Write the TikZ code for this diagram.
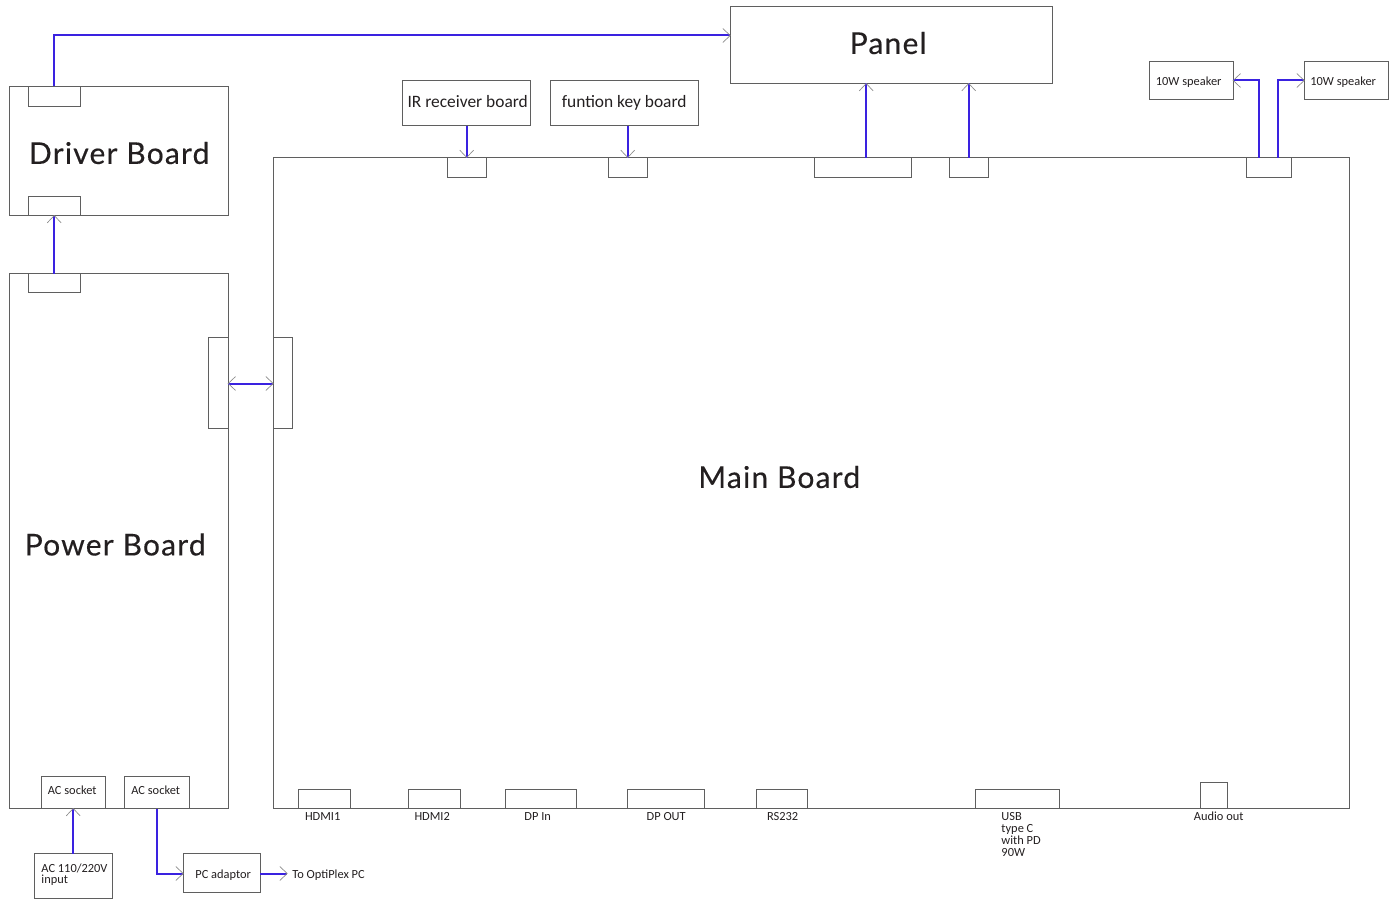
\documentclass[tikz,border=0pt]{standalone}
\usepackage{fontspec}
\setmainfont{Carlito}
\newfontfamily\titlefont[LetterSpace=4,FakeBold=0.35]{Lato}
\usetikzlibrary{arrows.meta}
\definecolor{wire}{HTML}{3A22E0}
\definecolor{edge}{HTML}{5F5F5F}
\definecolor{headc}{HTML}{8A8A8A}
\definecolor{ink}{HTML}{231F20}
\pgfdeclarearrow{
  name=OpenHead,
  setup code={\pgfarrowssettipend{0pt}\pgfarrowssetlineend{0pt}\pgfarrowssetbackend{-5.5pt}\pgfarrowssetvisualbackend{0pt}},
  drawing code={
    \pgfsetlinewidth{0.5pt}\pgfsetstrokecolor{headc}\pgfsetmiterjoin
    \pgfpathmoveto{\pgfqpoint{-5.5pt}{5.2pt}}
    \pgfpathlineto{\pgfpointorigin}
    \pgfpathlineto{\pgfqpoint{-5.5pt}{-5.2pt}}
    \pgfusepathqstroke},
  defaults={}
}
\tikzset{
  x=0.75pt,y=-0.75pt,
  box/.style={draw=edge,line width=0.75pt,inner sep=0pt,outer sep=0pt,anchor=north west,text=ink,align=center},
  wirepath/.style={draw=wire,line width=1.5pt,line join=miter},
  tip/.style={-{OpenHead}},
  tips/.style={{OpenHead}-{OpenHead}},
  bigtext/.style={font=\titlefont\fontsize{22.5pt}{26pt}\selectfont,text=ink,inner sep=0pt},
  midtext/.style={font=\fontsize{13.05pt}{15pt}\selectfont,text=ink},
  smalltext/.style={font=\fontsize{9.3pt}{9pt}\selectfont,text=ink,inner sep=0pt},
}
\newcommand{\bx}[6][]{\node[box,minimum width=#5*0.75pt-#3*0.75pt,minimum height=#6*0.75pt-#4*0.75pt,#1] (#2) at (#3,#4) {};}
\begin{document}
\begin{tikzpicture}
\useasboundingbox (-0.2,-0.5) rectangle (1396.8,898.5);
\bx{panel}{730}{6}{1052}{83}
\bx{driver}{9}{86}{228}{215}
\bx{drvtop}{28}{86}{80}{106}
\bx{drvbot}{28}{196}{80}{215}
\bx{power}{9}{273}{228}{808}
\bx{pwrtop}{28}{273}{80}{292}
\bx{pwrside}{208}{337}{228}{428}
\bx{mainb}{273}{157}{1349}{808}
\bx{mainside}{273}{337}{292}{428}
\bx{irbox}{402}{80}{530}{125}
\bx{keybox}{550}{80}{698}{125}
\bx{irconn}{447}{157}{486}{177}
\bx{keyconn}{608}{157}{647}{177}
\bx{pconna}{814}{157}{911}{177}
\bx{pconnb}{949}{157}{988}{177}
\bx{spkconn}{1246}{157}{1291}{177}
\bx{spkl}{1149}{61}{1233}{99}
\bx{spkr}{1304}{61}{1388}{99}
\bx{acone}{41}{776}{105}{808}
\bx{actwo}{124}{776}{189}{808}
\bx{acin}{34}{853}{112}{898}
\bx{pcad}{183}{853}{260}{892}
\bx{hdmia}{298}{789}{350}{808}
\bx{hdmib}{408}{789}{460}{808}
\bx{dpin}{505}{789}{576}{808}
\bx{dpout}{627}{789}{704}{808}
\bx{rs}{756}{789}{807}{808}
\bx{usb}{975}{789}{1059}{808}
\bx{audio}{1200}{782}{1227}{808}
% titles
\node[bigtext] (tpanel) at (888,42.5) {Panel};
\node[bigtext] (tdriver) at (119,152.5) {Driver Board};
\node[bigtext] (tpower) at (115,544) {Power Board};
\node[bigtext] (tmain) at (779,476.5) {Main Board};
% middle labels
\node[midtext] (tir) at (467.5,101) {IR receiver board};
\node[midtext] (tkey) at (624,102) {funtion key board};
% small labels
\node[smalltext] (tspkl) at (1188.5,81.5) {10W speaker};
\node[smalltext] (tspkr) at (1343,81.5) {10W speaker};
\node[smalltext] (tacone) at (72,790) {AC socket};
\node[smalltext] (tactwo) at (155.5,790) {AC socket};
\node[smalltext,align=left,anchor=west] (tacin) at (41,874) {AC 110/220V\\[-0.5pt]input};
\node[smalltext] (tpcad) at (223,874.5) {PC adaptor};
\node[smalltext,anchor=west] (topti) at (292,874.5) {To OptiPlex PC};
\node[smalltext,anchor=base] (thdmia) at (322.5,820) {HDMI1};
\node[smalltext,anchor=base] (thdmib) at (432,820) {HDMI2};
\node[smalltext,anchor=base] (tdpin) at (537.5,820) {DP In};
\node[smalltext,anchor=base] (tdpout) at (666,820) {DP OUT};
\node[smalltext,anchor=base] (trs) at (782.5,820) {RS232};
\node[smalltext,align=left,anchor=north west] (tusb) at (1001,811.5) {USB\\type C\\with PD\\90W};
\node[smalltext,anchor=base] (taudio) at (1218.5,820) {Audio out};
% connectors
\coordinate (toutend) at (287,873);
\draw[wirepath,tip] (drvtop.north) -- (drvtop.north |- 0,35) -- (panel.west |- 0,35);
\draw[wirepath,tip] (pwrtop.north) -- (drvbot.south);
\draw[wirepath,tips] (pwrside.east |- 0,383) -- (mainside.west |- 0,383);
\draw[wirepath,tip] (irbox.south -| irconn.north) -- (irconn.north);
\draw[wirepath,tip] (keybox.south -| keyconn.north) -- (keyconn.north);
\draw[wirepath,tip] (pconna.north -| 866,0) -- (panel.south -| 866,0);
\draw[wirepath,tip] (pconnb.north) -- (pconnb.north |- panel.south);
\draw[wirepath,tip] (spkconn.north -| 1259,0) -- (1259,80) -- (spkl.east |- 0,80);
\draw[wirepath,tip] (spkconn.north -| 1278,0) -- (1278,80) -- (spkr.west |- 0,80);
\draw[wirepath,tip] (acin.north -| 73,0) -- (acone.south -| 73,0);
\draw[wirepath,tip] (actwo.south -| 157,0) -- (157,873) -- (pcad.west |- 0,873);
\draw[wirepath,tip] (pcad.east |- 0,873) -- (toutend);
\end{tikzpicture}
\end{document}
